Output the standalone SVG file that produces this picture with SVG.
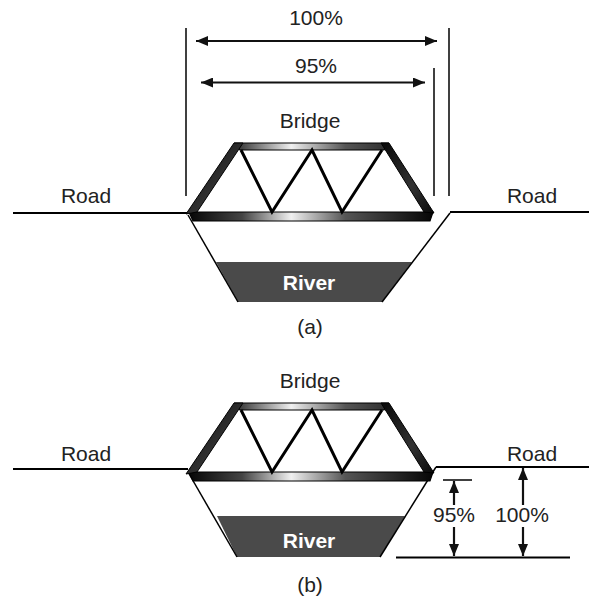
<svg xmlns="http://www.w3.org/2000/svg" width="590" height="597" viewBox="0 0 590 597">
  <defs>
    <style>
      text { font-family: "Liberation Sans", Arial, sans-serif; fill: #222; }
      .lbl { font-size: 21px; text-anchor: middle; }
      .river-lbl { font-size: 21px; font-weight: bold; fill: #fff; text-anchor: middle; }
      .line { stroke: #000; stroke-width: 2; fill: none; }
      .thin { stroke: #000; stroke-width: 1.5; fill: none; }
      .dim { stroke: #111; stroke-width: 2.2; fill: none; }
      .river { fill: #4a4a4a; }
      .chord { stroke: #000; stroke-width: 1.2; }
      .post { fill: url(#postShade); stroke: #000; stroke-width: 1; }
      .web { stroke: #000; stroke-width: 3; fill: none; stroke-linejoin: miter; }
    </style>
    <linearGradient id="chordShade" gradientUnits="userSpaceOnUse" x1="188" y1="0" x2="434" y2="0">
      <stop offset="0" stop-color="#050505"/>
      <stop offset="0.22" stop-color="#444"/>
      <stop offset="0.42" stop-color="#f0f0f0"/>
      <stop offset="0.64" stop-color="#555"/>
      <stop offset="1" stop-color="#050505"/>
    </linearGradient>
    <linearGradient id="postShade" x1="0" y1="0" x2="1" y2="1">
      <stop offset="0" stop-color="#080808"/>
      <stop offset="0.6" stop-color="#333"/>
      <stop offset="1" stop-color="#080808"/>
    </linearGradient>
    <marker id="arrow" viewBox="0 0 12 10" refX="12" refY="5" markerWidth="12" markerHeight="10" markerUnits="userSpaceOnUse" orient="auto-start-reverse">
      <path d="M0,0 L12,5 L0,10 Z" fill="#111"/>
    </marker>
    <!-- truss bridge frame, drawn with its bottom chord on the road line -->
    <g id="truss">
      <polygon class="chord" fill="url(#chordShade)" points="235,143 388,143 384,150 240,150"/>
      <polygon class="chord" fill="url(#chordShade)" points="189,212 433,212 430,221 193,221"/>
      <polygon class="post" points="186,214 234,143 243,143 197,212"/>
      <polygon class="post" points="381,143 389,143 434,213 424,212"/>
      <polyline class="web" points="241,150 272,212 312,150 342,212 382,150"/>
    </g>
  </defs>

  <!-- ===== (a) ===== -->
  <g id="river-a">
    <polygon class="river" points="216,262 412,262 382,302 238,302"/>
    <text class="river-lbl" x="309" y="290">River</text>
  </g>
  <g id="banks-a">
    <polyline class="thin" points="188,215 238,302"/>
    <polyline class="thin" points="450,213 382,302"/>
  </g>
  <g id="road-left-a">
    <line class="line" x1="13" y1="213" x2="188" y2="213"/>
    <text class="lbl" x="86" y="203">Road</text>
  </g>
  <g id="road-right-a">
    <line class="line" x1="450" y1="212" x2="589" y2="212"/>
    <text class="lbl" x="532" y="203">Road</text>
  </g>
  <g id="bridge-a">
    <use href="#truss"/>
    <text class="lbl" x="310" y="128">Bridge</text>
  </g>
  <g id="connectors-a">
    <line class="thin" x1="186" y1="28" x2="186" y2="196"/>
    <line class="thin" x1="449" y1="28" x2="449" y2="196"/>
    <line class="thin" x1="434" y1="68" x2="434" y2="196"/>
    <line class="dim" x1="196" y1="41" x2="437" y2="41" marker-start="url(#arrow)" marker-end="url(#arrow)"/>
    <line class="dim" x1="201" y1="82.5" x2="425" y2="82.5" marker-start="url(#arrow)" marker-end="url(#arrow)"/>
  </g>
  <g id="labels-a">
    <text class="lbl" x="316" y="25">100%</text>
    <text class="lbl" x="316" y="73">95%</text>
    <text class="lbl" x="310" y="334">(a)</text>
  </g>

  <!-- ===== (b) ===== -->
  <g id="river-b">
    <polygon class="river" points="217,516 405,516 380,557 237,557"/>
    <text class="river-lbl" x="309" y="548">River</text>
  </g>
  <g id="banks-b">
    <polyline class="thin" points="188,472 237,557"/>
    <polyline class="thin" points="436,467 380,557"/>
  </g>
  <g id="road-left-b">
    <line class="line" x1="13" y1="469" x2="188" y2="469"/>
    <text class="lbl" x="86" y="461">Road</text>
  </g>
  <g id="road-right-b">
    <line class="line" x1="436" y1="467" x2="589" y2="467"/>
    <text class="lbl" x="532" y="461">Road</text>
  </g>
  <g id="bridge-b">
    <use href="#truss" transform="translate(0,260)"/>
    <text class="lbl" x="310" y="388">Bridge</text>
  </g>
  <g id="connectors-b">
    <line class="line" x1="396" y1="557.5" x2="570" y2="557.5"/>
    <line class="thin" x1="443" y1="480" x2="472" y2="480"/>
    <line class="dim" x1="454" y1="505" x2="454" y2="481" marker-end="url(#arrow)"/>
    <line class="dim" x1="454" y1="527" x2="454" y2="556" marker-end="url(#arrow)"/>
    <line class="dim" x1="523" y1="505" x2="523" y2="468" marker-end="url(#arrow)"/>
    <line class="dim" x1="523" y1="527" x2="523" y2="556" marker-end="url(#arrow)"/>
  </g>
  <g id="labels-b">
    <text class="lbl" x="454" y="522">95%</text>
    <text class="lbl" x="522" y="522">100%</text>
    <text class="lbl" x="310" y="592">(b)</text>
  </g>
</svg>
